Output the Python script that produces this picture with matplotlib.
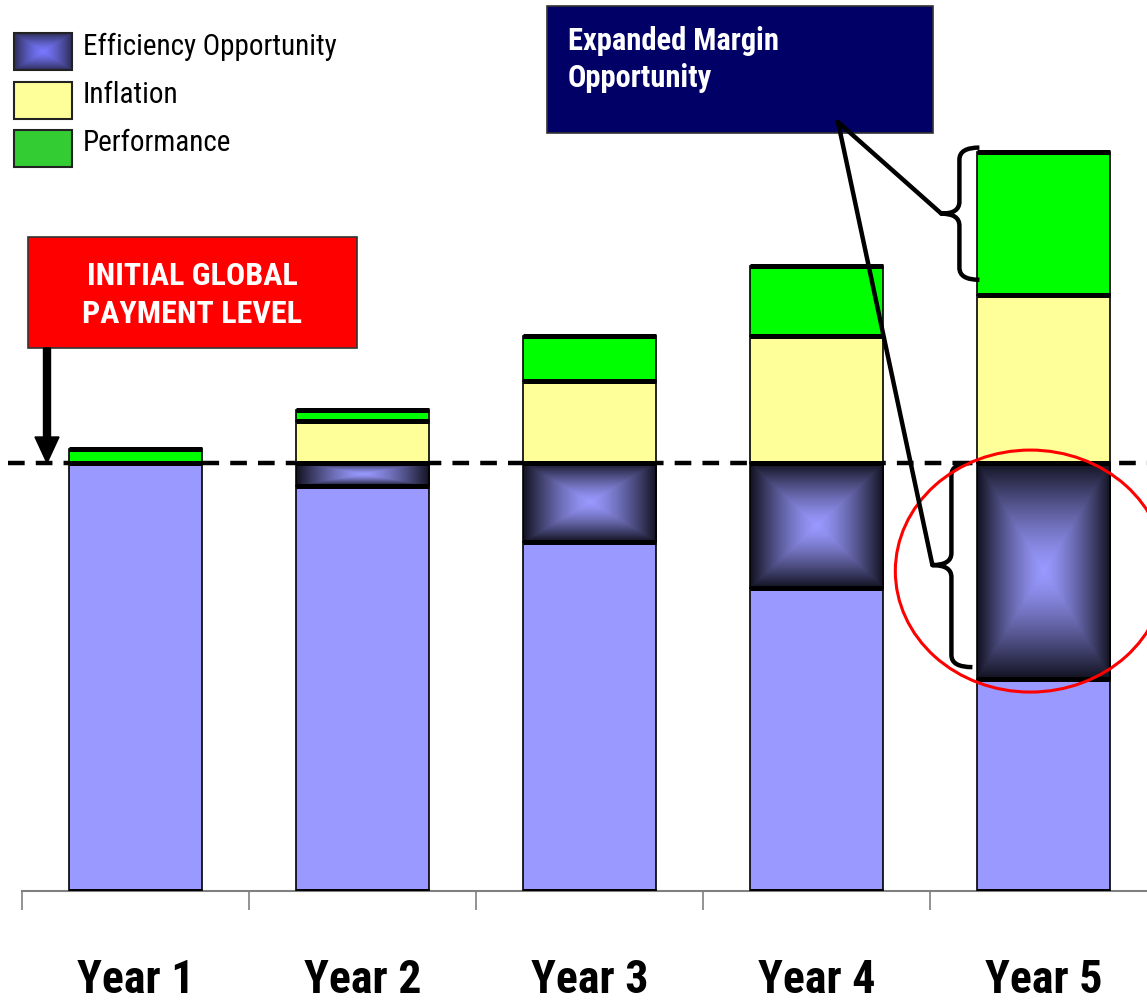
import numpy as np
import matplotlib
matplotlib.use("Agg")
import matplotlib.pyplot as plt
from matplotlib import font_manager
from matplotlib.patches import Rectangle, Ellipse, FancyArrow, PathPatch
from matplotlib.path import Path

# prefer a narrow sans face; fall back to the regular Arial-metric one
fonts = font_manager.fontManager.ttflist
names = {f.name for f in fonts}
narrow = None
for cand in ["Liberation Sans Narrow", "Arial Narrow", "DejaVu Sans Condensed",
             "Roboto Condensed", "Open Sans Condensed", "Noto Sans Condensed"]:
    if cand in names:
        narrow = cand
        break
stretch = "normal"
if narrow is None:
    for f in fonts:
        if f.stretch in ("condensed", "semi-condensed", "extra-condensed") and "Sans" in f.name:
            narrow, stretch = f.name, f.stretch
            break
FAMILY = narrow if narrow else "Liberation Sans"
SCALE = 1.0 if narrow else 0.86
plt.rcParams["font.family"] = [FAMILY, "DejaVu Sans"]
plt.rcParams["font.stretch"] = stretch
plt.rcParams["lines.scale_dashes"] = False

years = ["Year 1", "Year 2", "Year 3", "Year 4", "Year 5"]
base = [100.0, 94.6, 81.5, 70.8, 49.5]
efficiency = [0.0, 5.4, 18.5, 29.2, 50.5]
inflation = [0.0, 9.7, 19.2, 29.7, 39.3]
performance = [3.2, 2.7, 10.5, 16.4, 33.4]
initial_level = 100.0

BASE_C = "#9999FF"
INFL_C = "#FFFF99"
PERF_C = "#00FF00"
W, H = 1147, 1007
PX_PER_UNIT = 4.28
Y0_PX = 891


def box_gradient(nx=200, ny=200, center=(153, 153, 255), edge=(18, 18, 32)):
    # rectangular "pyramid" shading: bright in the middle, dark at the rim
    u = np.linspace(-1, 1, nx)
    v = np.linspace(-1, 1, ny)
    U, V = np.meshgrid(u, v)
    t = np.maximum(np.abs(U), np.abs(V)) ** 1.35
    c = np.array(center) / 255.0
    e = np.array(edge) / 255.0
    return c[None, None, :] * (1 - t[..., None]) + e[None, None, :] * t[..., None]


fig = plt.figure(figsize=(W / 100, H / 100), dpi=100)
ymax = Y0_PX / PX_PER_UNIT
ax = fig.add_axes([22 / W, (H - Y0_PX) / H, 1135.5 / W, Y0_PX / H])
ax.set_xlim(-0.5, 4.5)
ax.set_ylim(0, ymax)

x = np.arange(len(years))
bw = 0.586
grad = box_gradient()

ax.plot([-0.56, 4.6], [initial_level, initial_level], color="black", lw=3.2,
        dashes=(12, 8), clip_on=False, zorder=1)

for i in range(len(years)):
    levels = [0.0]
    b0 = 0.0
    for val, col in [(base[i], BASE_C), (efficiency[i], None),
                     (inflation[i], INFL_C), (performance[i], PERF_C)]:
        if val <= 0:
            continue
        if col is None:
            ax.imshow(grad, extent=[x[i] - bw / 2, x[i] + bw / 2, b0, b0 + val],
                      aspect="auto", interpolation="bilinear", zorder=2)
            ax.add_patch(Rectangle((x[i] - bw / 2, b0), bw, val, fill=False,
                                   edgecolor="black", lw=1.2, zorder=3))
        else:
            ax.bar(x[i], val, bw, bottom=b0, color=col, edgecolor="black",
                   lw=1.2, zorder=3)
        b0 += val
        levels.append(b0)
    ax.hlines(levels, x[i] - bw / 2, x[i] + bw / 2, color="black", lw=3.6, zorder=4)

ax.set_ylim(0, ymax)
ax.set_xlim(-0.5, 4.5)
for s in ["left", "right", "top"]:
    ax.spines[s].set_visible(False)
ax.spines["bottom"].set_color("#808080")
ax.spines["bottom"].set_linewidth(1.5)
ax.set_yticks([])
ax.set_xticks(np.arange(-0.5, 5, 1.0))
ax.set_xticklabels([])
ax.tick_params(axis="x", which="major", length=14, width=1.2, color="#808080")
ax.set_xticks(x, minor=True)
ax.set_xticklabels(years, minor=True, fontsize=33 if narrow else 28, fontweight="bold")
ax.tick_params(axis="x", which="minor", length=0, pad=48)
ax.patch.set_alpha(0)

# overlay in pixel coordinates for callouts and legend
ov = fig.add_axes([0, 0, 1, 1], zorder=5)
ov.set_xlim(0, W)
ov.set_ylim(H, 0)
ov.axis("off")
ov.patch.set_alpha(0)


def to_px(xd, yd):
    dx, dy = ax.transData.transform((xd, yd))
    return dx, H - dy


# legend
ov.imshow(box_gradient(center=(120, 120, 255), edge=(45, 45, 90)),
          extent=[14, 72, 70, 33], aspect="auto", interpolation="bilinear")
ov.add_patch(Rectangle((14, 33), 58, 37, fill=False, edgecolor="#222222", lw=1.5))
ov.add_patch(Rectangle((14, 82), 58, 37, facecolor=INFL_C, edgecolor="#222222", lw=1.5))
ov.add_patch(Rectangle((14, 130), 58, 37, facecolor="#33CC33", edgecolor="#222222", lw=1.5))
for lbl, yb in [("Efficiency Opportunity", 55), ("Inflation", 103), ("Performance", 151)]:
    ov.text(83, yb, lbl, fontsize=21 * SCALE, va="baseline", ha="left")

# initial level callout
ov.add_patch(Rectangle((28, 237), 329, 111, facecolor="#FF0000", edgecolor="#333333", lw=1.2))
ov.text(192.5, 285, "INITIAL GLOBAL", color="white", fontsize=23 * SCALE, fontweight="bold",
        ha="center", va="baseline")
ov.text(192.5, 323, "PAYMENT LEVEL", color="white", fontsize=23 * SCALE, fontweight="bold",
        ha="center", va="baseline")
_, y_init = to_px(0, initial_level)
ov.add_patch(FancyArrow(47, 348, 0, y_init - 348, width=7, head_width=24,
                        head_length=26, length_includes_head=True, color="black"))

# expanded margin callout
ov.add_patch(Rectangle((547, 6), 386, 127, facecolor="#000066", edgecolor="#333333", lw=1.2))
ov.text(568, 50, "Expanded Margin", color="white", fontsize=22 * SCALE, fontweight="bold",
        va="baseline")
ov.text(568, 87, "Opportunity", color="white", fontsize=22 * SCALE, fontweight="bold",
        va="baseline")


def brace(x_end, x_body, x_tip, y_top, y_bot, r=12):
    ym = (y_top + y_bot) / 2
    verts = [(x_end, y_top), (x_body, y_top), (x_body, y_top + r),
             (x_body, ym - r), (x_body, ym), (x_tip, ym),
             (x_body, ym), (x_body, ym + r),
             (x_body, y_bot - r), (x_body, y_bot), (x_end, y_bot)]
    codes = [Path.MOVETO, Path.CURVE3, Path.CURVE3, Path.LINETO, Path.CURVE3, Path.CURVE3,
             Path.CURVE3, Path.CURVE3, Path.LINETO, Path.CURVE3, Path.CURVE3]
    ov.add_patch(PathPatch(Path(verts, codes), fill=False, lw=3.2, edgecolor="black",
                           capstyle="butt", joinstyle="round"))
    return x_tip, ym


i5 = len(years) - 1
left5, _ = to_px(x[i5] - bw / 2, 0)
top5 = base[i5] + efficiency[i5] + inflation[i5] + performance[i5]
infl_top5 = base[i5] + efficiency[i5] + inflation[i5]
_, py_top = to_px(0, top5 + 1)
_, py_bot = to_px(0, infl_top5 + 3.5)
tip_g = brace(left5 + 2, left5 - 18, left5 - 36, py_top, py_bot)
_, py_top = to_px(0, initial_level)
_, py_bot = to_px(0, base[i5] + 2.8)
tip_e = brace(left5 - 5, left5 - 26, left5 - 45, py_top, py_bot)

for tx, ty in [tip_g, tip_e]:
    ov.plot([838, tx], [122, ty], color="black", lw=3.2, solid_capstyle="round")

# highlight ring around the year-5 efficiency block
cx, _ = to_px(x[i5] - 0.06, 0)
_, cy = to_px(0, base[i5] + efficiency[i5] / 2)
ov.add_patch(Ellipse((cx, cy), 270, 242, fill=False, edgecolor="#FF0000", lw=2.2))

fig.savefig("out.png", dpi=100)
